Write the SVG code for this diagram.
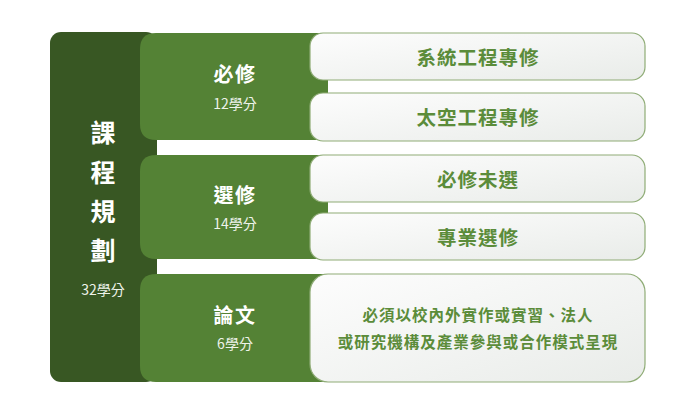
<svg xmlns="http://www.w3.org/2000/svg" width="700" height="404" viewBox="0 0 700 404">
<defs>
<linearGradient id="wg" x1="0" y1="0" x2="1" y2="1">
<stop offset="0" stop-color="#fdfdfd"/>
<stop offset="1" stop-color="#e9ece9"/>
</linearGradient>
<style>
text{font-family:"Noto Sans CJK TC","Noto Sans CJK SC",sans-serif;text-anchor:middle;dominant-baseline:central}
.dark{fill:#385723}
.mid{fill:#548235}
.card{fill:url(#wg);stroke:#8fac76;stroke-width:1.2}
.vt{fill:#ffffff;font-size:25px;font-weight:700}
.gt{fill:#ffffff;font-size:20px;font-weight:700;letter-spacing:1.5px}
.sub{fill:#eef3ea;font-size:14px}
.ct{fill:#5b8c3a;font-size:19.5px;font-weight:700;letter-spacing:1px}
.lt{fill:#5b8c3a;font-size:15.5px;font-weight:700;letter-spacing:1px}
</style>
</defs>
<rect width="700" height="404" fill="#ffffff"/>
<g id="plan">
<rect class="dark" x="50" y="32" width="107" height="350" rx="11"/>
<text class="vt" x="103" y="131">課</text>
<text class="vt" x="103" y="171">程</text>
<text class="vt" x="103" y="210">規</text>
<text class="vt" x="103" y="249">劃</text>
<text class="sub" x="103" y="289">32學分</text>
</g>
<g id="required">
<path class="mid" d="M156 33 H328 V140 H156 Q140 140 140 124 V49 Q140 33 156 33 Z"/>
<text class="gt" x="235" y="73">必修</text>
<text class="sub" x="235" y="103">12學分</text>
</g>
<g id="elective">
<path class="mid" d="M156 155 H328 V259 H156 Q140 259 140 243 V171 Q140 155 156 155 Z"/>
<text class="gt" x="235" y="194">選修</text>
<text class="sub" x="235" y="223">14學分</text>
</g>
<g id="thesis">
<path class="mid" d="M156 274 H328 V382 H156 Q140 382 140 366 V290 Q140 274 156 274 Z"/>
<text class="gt" x="235" y="314">論文</text>
<text class="sub" x="235" y="343">6學分</text>
</g>
<g id="sys">
<rect class="card" x="310" y="33" width="335" height="47" rx="13"/>
<text class="ct" x="478" y="56">系統工程專修</text>
</g>
<g id="space">
<rect class="card" x="310" y="93" width="335" height="48" rx="13"/>
<text class="ct" x="478" y="116">太空工程專修</text>
</g>
<g id="unselected">
<rect class="card" x="310" y="155" width="335" height="47" rx="13"/>
<text class="ct" x="478" y="178">必修未選</text>
</g>
<g id="prof">
<rect class="card" x="310" y="213" width="335" height="47" rx="13"/>
<text class="ct" x="478" y="236">專業選修</text>
</g>
<g id="thesisdesc">
<rect class="card" x="310" y="274" width="335" height="108" rx="18"/>
<text class="lt" x="478" y="314">必須以校內外實作或實習、法人</text>
<text class="lt" x="478" y="341">或研究機構及產業參與或合作模式呈現</text>
</g>
<g id="connectors"></g>
</svg>
